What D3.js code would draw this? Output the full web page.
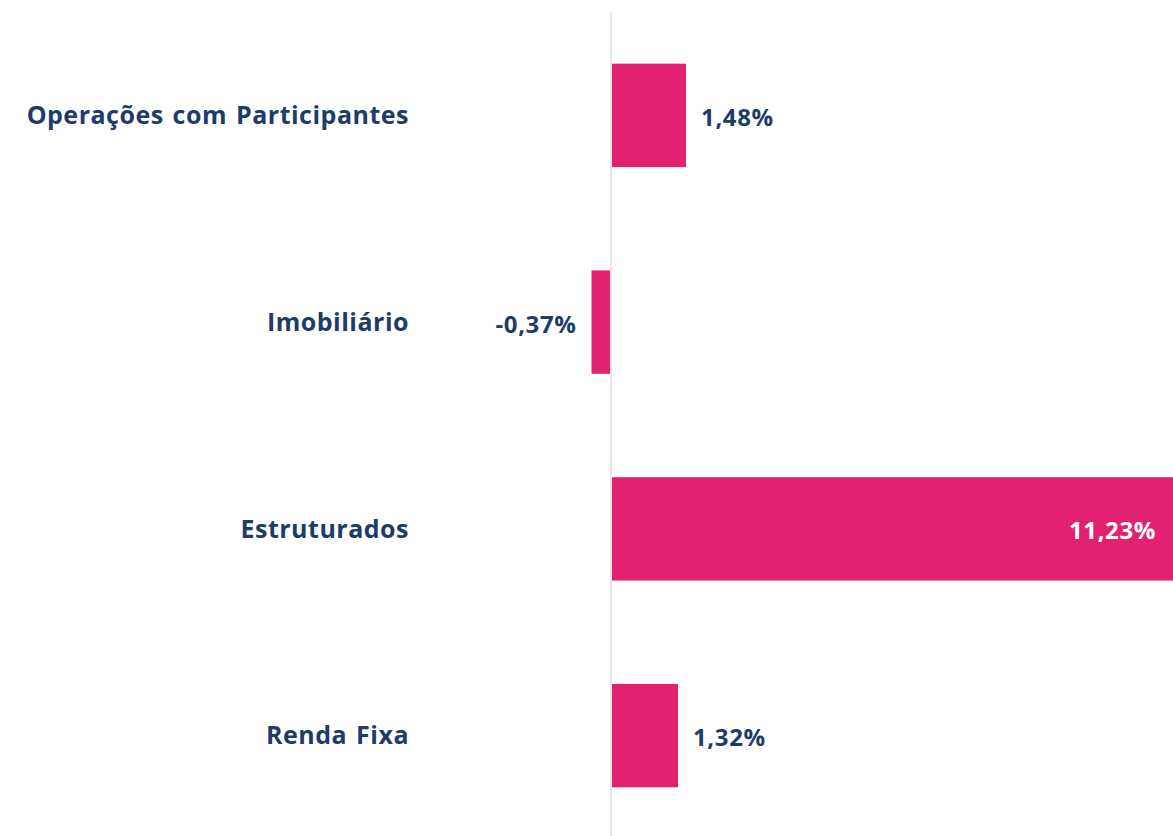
<!DOCTYPE html>
<html>
<head>
<meta charset="utf-8">
<script src="https://cdn.jsdelivr.net/npm/d3@7"></script>
<style>
  html, body { margin: 0; padding: 0; background: #fff; }
  svg { display: block; }
  text { font-family: "Open Sans", Lato, sans-serif; font-weight: 700; }
</style>
</head>
<body>
<div id="chart"></div>
<script>
const categories = ['Operações com Participantes', 'Imobiliário', 'Estruturados', 'Renda Fixa'];
const values = [1.48, -0.37, 11.23, 1.32];
const valueLabels = ['1,48%', '-0,37%', '11,23%', '1,32%'];

const svgWidth = 1173;
const svgHeight = 836;

const data = categories.map((c, i) => ({ cat: c, value: values[i], label: valueLabels[i] }));

const svg = d3.select('#chart')
  .append('svg')
    .attr('width', svgWidth)
    .attr('height', svgHeight);

const zeroX = 611;

const xScale = d3.scaleLinear()
    .domain([0, d3.max(values)])
    .range([zeroX, svgWidth]);

const yScale = d3.scaleBand()
    .domain(categories)
    .range([12, 839])
    .paddingInner(0.5)
    .paddingOuter(0.25);

const navy = '#1e3b6a';
const pink = '#e32171';

// zero line
svg.append('line')
    .attr('x1', xScale(0))
    .attr('x2', xScale(0))
    .attr('y1', 12)
    .attr('y2', svgHeight)
    .attr('stroke', '#e6e6e6')
    .attr('stroke-width', 2);

svg.selectAll('rect.bar').data(data)
  .enter().append('rect')
    .attr('class', 'bar')
    .attr('x', d => d.value >= 0 ? xScale(0) + 1 : xScale(d.value) - 1)
    .attr('width', d => Math.abs(xScale(d.value) - xScale(0)))
    .attr('y', d => yScale(d.cat))
    .attr('height', yScale.bandwidth())
    .attr('fill', pink);

// category labels
svg.selectAll('text.cat').data(data)
  .enter().append('text')
    .attr('class', 'cat')
    .attr('x', 409)
    .attr('y', d => yScale(d.cat) + yScale.bandwidth() / 2)
    .attr('dy', '0.35em')
    .attr('text-anchor', 'end')
    .attr('fill', navy)
    .style('font-size', '25px')
    .style('letter-spacing', '0.5px')
    .style('word-spacing', '2px')
    .text(d => d.cat);

// value labels
const maxV = d3.max(values);
svg.selectAll('text.val').data(data)
  .enter().append('text')
    .attr('class', 'val')
    .attr('x', d => {
      if (d.value === maxV) return xScale(d.value) - 17;
      return d.value >= 0 ? xScale(d.value) + 16 : xScale(d.value) - 16;
    })
    .attr('y', d => yScale(d.cat) + yScale.bandwidth() / 2 + 2)
    .attr('dy', '0.35em')
    .attr('text-anchor', d => (d.value === maxV || d.value < 0) ? 'end' : 'start')
    .attr('fill', d => d.value === maxV ? '#fff' : navy)
    .style('font-size', '24px')
    .style('letter-spacing', '0.6px')
    .text(d => d.label);
</script>
</body>
</html>
